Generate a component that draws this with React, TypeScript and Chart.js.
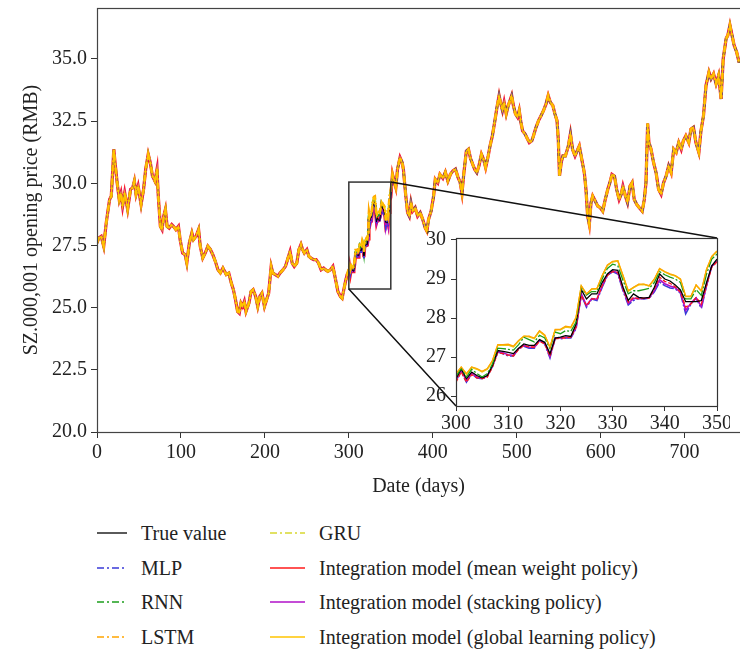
import React, { useEffect, useRef } from 'react';
import { Chart, registerables } from 'chart.js';
Chart.register(...registerables);

const FONT = "'Liberation Serif', 'Times New Roman', serif";

// ---- main chart: true-value trace outside the zoomed window ----
const mainDaysA = [0, 2, 5, 8, 11, 15, 17, 19, 20, 21.5, 24, 26.5, 28.5, 30.5, 33, 36.5, 40, 42.5, 44.5, 46.5, 49, 52.5, 55.5, 58, 61, 63.5, 66, 69, 71.5, 73, 75.5, 77.5, 79.5, 81.5, 83.5, 86, 89, 91, 94, 97, 99, 102, 105, 107, 110, 113, 115, 118, 121, 123, 126, 129, 132, 135, 138, 141, 144, 147, 150, 154, 157, 160, 162.5, 165, 167.5, 169.5, 171.5, 173.5, 175.5, 177.5, 181, 183.5, 186, 189, 191.5, 194, 196.5, 199.5, 202, 204.5, 207.5, 209.5, 212.5, 215.5, 218, 221.5, 224.5, 227.5, 230, 232.5, 235, 238, 240.5, 243, 245, 247, 250, 252.5, 255, 258, 261, 264, 267, 270, 272.5, 275, 278, 281, 283, 285, 287, 290, 292, 294, 296, 298];
const mainValuesA = [27.6, 27.8, 27.87, 27.47, 28.41, 29.35, 29.48, 30.7, 31.37, 30.83, 30.03, 29.35, 29.6, 29.08, 29.62, 28.95, 29.76, 29.82, 30.09, 29.56, 29.89, 29.15, 29.76, 30.57, 31.17, 30.83, 30.3, 30.09, 30.57, 29.49, 28.27, 28.14, 28.68, 28.95, 28.27, 28.2, 28.34, 28.27, 28.14, 28.27, 27.74, 27.2, 27.13, 26.8, 27.6, 28.0, 27.74, 27.87, 28.14, 27.47, 27.0, 27.2, 27.47, 27.34, 27.13, 26.86, 26.53, 26.4, 26.59, 26.33, 26.39, 25.99, 25.72, 25.32, 24.85, 24.78, 25.18, 25.05, 25.25, 24.85, 25.18, 25.65, 25.72, 25.45, 25.05, 25.45, 25.58, 25.05, 25.32, 25.58, 26.66, 26.39, 26.33, 26.26, 26.39, 26.52, 26.66, 26.99, 27.26, 26.79, 26.66, 26.79, 27.33, 27.54, 27.33, 27.2, 27.33, 27.06, 26.99, 26.93, 26.93, 26.79, 26.52, 26.59, 26.52, 26.46, 26.52, 26.66, 26.33, 25.99, 25.65, 25.45, 25.38, 25.72, 26.05, 26.33];

const mainDaysB = [352, 354, 356, 358, 361, 363.5, 365, 367.5, 370, 372, 374, 376, 379, 382, 385, 388, 391, 393, 395, 398, 401, 403, 406, 408.5, 412, 415, 418, 421, 424, 427, 430, 432.5, 434.8, 437, 440, 442.5, 445, 447.5, 450, 452.5, 455, 458, 460.5, 463, 466, 468.5, 471, 474, 476.5, 479, 481, 483, 485, 487.5, 490, 492, 494, 496, 498.5, 501, 503, 505, 507, 510, 512, 515, 518, 520, 523, 526, 529, 532, 535, 537.5, 540, 543, 545.5, 548, 549.5, 551, 553, 555, 558, 561.5, 564, 566.5, 569.5, 572, 574.6, 577.5, 580.5, 582.5, 584.5, 586.5, 588.5, 590.5, 593.5, 596.5, 599.5, 602.5, 605.5, 608.5, 611, 613.5, 616.5, 619, 622, 624.5, 626.5, 629.5, 632, 635, 637.5, 640, 643, 646, 649.5, 652, 654, 656, 657.5, 660, 663, 666, 669, 672, 675, 678, 681, 684, 687, 690, 693, 696, 698.5, 701.5, 705, 707.5, 710.5, 713.5, 717, 719.5, 722.5, 725.5, 729, 731.5, 734.5, 737.5, 740.5, 743.5, 746, 749.5, 751.5, 754, 756.5, 759, 762, 765];
const mainValuesB = [30.36, 30.09, 29.83, 30.57, 31.04, 30.84, 30.57, 29.62, 28.82, 28.68, 29.22, 28.88, 29.02, 28.68, 28.82, 28.55, 28.21, 28.08, 28.55, 28.88, 29.49, 30.16, 30.02, 30.36, 30.2, 30.45, 30.09, 30.36, 30.5, 30.57, 30.25, 30.05, 29.6, 30.4, 31.3, 31.37, 31.0, 30.77, 30.56, 30.43, 30.7, 31.17, 30.97, 30.63, 31.1, 31.55, 31.91, 32.52, 33.06, 33.53, 33.2, 32.93, 33.26, 32.79, 33.13, 33.33, 33.53, 33.13, 32.79, 32.66, 32.93, 32.45, 32.11, 31.98, 31.84, 31.64, 31.71, 31.91, 32.25, 32.52, 32.72, 32.93, 33.2, 33.53, 33.26, 33.13, 32.79, 32.52, 31.78, 30.3, 30.83, 31.1, 31.1, 31.5, 32.0, 31.37, 31.1, 31.3, 31.5, 30.97, 30.43, 29.76, 28.68, 28.34, 29.22, 29.49, 29.29, 29.08, 29.02, 28.88, 29.35, 29.76, 30.03, 30.36, 30.29, 29.76, 29.35, 29.56, 29.89, 29.49, 29.22, 29.89, 30.03, 29.35, 29.15, 29.02, 28.88, 29.35, 30.03, 32.4, 31.64, 31.37, 30.84, 30.43, 29.76, 29.56, 30.03, 30.29, 30.7, 30.43, 31.37, 31.24, 31.64, 31.37, 31.71, 31.91, 31.64, 32.18, 32.25, 31.64, 31.24, 32.11, 32.72, 33.93, 34.47, 34.2, 34.4, 34.0, 34.34, 33.39, 35.01, 35.82, 35.95, 36.36, 35.95, 35.55, 35.28, 34.85];

// ---- zoomed window, days 300..350 ----
const insetStartDay = 300;
const insetTrue = [26.45, 26.70, 26.45, 26.62, 26.53, 26.47, 26.53, 26.79, 27.17, 27.15, 27.12, 27.09, 27.23, 27.34, 27.30, 27.30, 27.45, 27.38, 27.09, 27.49, 27.51, 27.55, 27.53, 27.85, 28.73, 28.49, 28.62, 28.62, 28.91, 29.13, 29.24, 29.22, 28.79, 28.45, 28.62, 28.53, 28.51, 28.53, 28.79, 29.13, 29.00, 28.95, 28.85, 28.72, 28.42, 28.42, 28.42, 28.45, 28.91, 29.34, 29.51];
const insetMLP = [26.40, 26.64, 26.36, 26.58, 26.47, 26.45, 26.51, 26.77, 27.13, 27.09, 27.03, 27.03, 27.22, 27.28, 27.23, 27.23, 27.43, 27.34, 26.98, 27.49, 27.47, 27.49, 27.49, 27.73, 28.60, 28.28, 28.49, 28.45, 28.79, 29.09, 29.19, 29.13, 28.70, 28.34, 28.45, 28.51, 28.49, 28.51, 28.67, 28.92, 28.83, 28.77, 28.75, 28.64, 28.11, 28.36, 28.51, 28.25, 28.83, 29.34, 29.43];
const insetRNN = [26.51, 26.71, 26.49, 26.69, 26.58, 26.49, 26.58, 26.83, 27.23, 27.22, 27.20, 27.18, 27.32, 27.51, 27.45, 27.39, 27.56, 27.49, 27.22, 27.64, 27.60, 27.68, 27.66, 27.90, 28.79, 28.59, 28.68, 28.68, 29.00, 29.27, 29.38, 29.34, 28.96, 28.62, 28.70, 28.70, 28.73, 28.76, 28.91, 29.19, 29.11, 29.05, 29.00, 28.91, 28.49, 28.49, 28.73, 28.58, 29.13, 29.51, 29.64];
const insetLSTM = [26.58, 26.75, 26.58, 26.75, 26.71, 26.64, 26.71, 26.92, 27.32, 27.32, 27.33, 27.28, 27.43, 27.54, 27.54, 27.49, 27.68, 27.57, 27.26, 27.71, 27.71, 27.79, 27.77, 28.02, 28.83, 28.62, 28.75, 28.76, 29.09, 29.36, 29.45, 29.47, 29.09, 28.70, 28.79, 28.87, 28.87, 28.83, 29.00, 29.27, 29.19, 29.13, 29.09, 29.00, 28.56, 28.56, 28.85, 28.70, 29.25, 29.58, 29.72];
const insetGRU = [26.57, 26.74, 26.57, 26.74, 26.70, 26.63, 26.70, 26.91, 27.31, 27.31, 27.32, 27.27, 27.42, 27.53, 27.53, 27.48, 27.67, 27.56, 27.25, 27.70, 27.70, 27.78, 27.76, 28.01, 28.82, 28.61, 28.74, 28.75, 29.08, 29.35, 29.44, 29.46, 29.08, 28.69, 28.78, 28.86, 28.86, 28.82, 28.99, 29.26, 29.18, 29.12, 29.08, 28.99, 28.55, 28.55, 28.84, 28.69, 29.24, 29.57, 29.71];
const insetMean = [26.36, 26.62, 26.36, 26.55, 26.47, 26.45, 26.49, 26.75, 27.12, 27.09, 27.05, 27.03, 27.20, 27.30, 27.26, 27.26, 27.40, 27.34, 27.03, 27.47, 27.49, 27.49, 27.51, 27.77, 28.58, 28.32, 28.49, 28.49, 28.83, 29.09, 29.19, 29.17, 28.75, 28.41, 28.53, 28.49, 28.51, 28.51, 28.75, 29.05, 28.94, 28.89, 28.80, 28.67, 28.28, 28.36, 28.53, 28.36, 28.83, 29.30, 29.44];
const insetStacking = [26.42, 26.66, 26.40, 26.59, 26.49, 26.46, 26.52, 26.78, 27.14, 27.11, 27.06, 27.05, 27.22, 27.30, 27.26, 27.25, 27.43, 27.36, 27.02, 27.49, 27.49, 27.51, 27.51, 27.76, 28.62, 28.32, 28.50, 28.48, 28.82, 29.11, 29.21, 29.16, 28.74, 28.38, 28.50, 28.51, 28.50, 28.52, 28.71, 28.98, 28.88, 28.82, 28.78, 28.66, 28.20, 28.38, 28.52, 28.30, 28.85, 29.33, 29.46];
const insetGlobal = [26.56, 26.74, 26.56, 26.74, 26.69, 26.62, 26.69, 26.90, 27.30, 27.30, 27.31, 27.26, 27.41, 27.53, 27.52, 27.47, 27.66, 27.55, 27.25, 27.70, 27.70, 27.77, 27.75, 28.00, 28.82, 28.61, 28.74, 28.75, 29.08, 29.35, 29.44, 29.46, 29.07, 28.69, 28.78, 28.85, 28.86, 28.82, 28.99, 29.26, 29.18, 29.12, 29.08, 28.99, 28.55, 28.55, 28.84, 28.69, 29.24, 29.57, 29.71];

const mainXMax = 766;
const mainYMin = 20, mainYMax = 37.05;
const insetYMin = 25.75, insetYMax = 30.05;
const insetXMin = 300, insetXMax = 350;

const DASHDOT = [6, 3, 1.5, 3];
const series = [
  { label: 'True value', data: insetTrue, color: '#000000', dash: [] as number[], col: 0, row: 0 },
  { label: 'MLP', data: insetMLP, color: '#3a3ad8', dash: DASHDOT, col: 0, row: 1 },
  { label: 'RNN', data: insetRNN, color: '#1c9e1c', dash: DASHDOT, col: 0, row: 2 },
  { label: 'LSTM', data: insetLSTM, color: '#ffa500', dash: DASHDOT, col: 0, row: 3 },
  { label: 'GRU', data: insetGRU, color: '#d8d830', dash: DASHDOT, col: 1, row: 0 },
  { label: 'Integration model (mean weight policy)', data: insetMean, color: '#ff1a1a', dash: [] as number[], col: 1, row: 1 },
  { label: 'Integration model (stacking policy)', data: insetStacking, color: '#b010c8', dash: [] as number[], col: 1, row: 2 },
  { label: 'Integration model (global learning policy)', data: insetGlobal, color: '#ffc400', dash: [] as number[], col: 1, row: 3 },
];

// main-chart drawing style per series (order: lower = on top)
const mainStyle: Record<string, { w: number; order: number }> = {
  'True value': { w: 1, order: 3 },
  'MLP': { w: 1.5, order: 4 },
  'RNN': { w: 2.4, order: 6 },
  'LSTM': { w: 2.6, order: 1 },
  'GRU': { w: 2.2, order: 2 },
  'Integration model (mean weight policy)': { w: 3.2, order: 7 },
  'Integration model (stacking policy)': { w: 2.0, order: 5 },
  'Integration model (global learning policy)': { w: 1.4, order: 0 },
};
const insetOrder: Record<string, number> = {
  'True value': 2, 'MLP': 6, 'RNN': 1, 'LSTM': 0, 'GRU': 7,
  'Integration model (mean weight policy)': 3, 'Integration model (stacking policy)': 5,
  'Integration model (global learning policy)': 8,
};

const INSET_LEFT = 400, INSET_TOP = 228, INSET_W = 330, INSET_H = 212;

function insetPoints(vals: number[]) {
  return vals.map((v, i) => ({ x: insetStartDay + i, y: v }));
}
function mainPoints(vals: number[]) {
  const a = mainDaysA.map((d, i) => ({ x: d, y: mainValuesA[i] }));
  const b = mainDaysB.map((d, i) => ({ x: d, y: mainValuesB[i] }));
  return [...a, ...insetPoints(vals), ...b];
}

const tickFont = { family: FONT, size: 20 };
const noPad = (s: any) => { s.paddingTop = 0; s.paddingBottom = 0; s.paddingLeft = 0; s.paddingRight = 0; };

function insetDash(label: string, dash: number[]) {
  if (label === 'Integration model (mean weight policy)') return [4, 2];
  if (label === 'LSTM') return [];
  return dash.length ? [12, 2, 2, 2] : [];
}

export default function App() {
  const mainRef = useRef<HTMLCanvasElement>(null);
  const insetRef = useRef<HTMLCanvasElement>(null);

  useEffect(() => {
    const insetFrame = {
      id: 'insetFrame',
      beforeDraw(chart: any) {
        const a = chart.chartArea;
        const c = chart.ctx;
        c.save();
        c.fillStyle = '#ffffff';
        c.fillRect(a.left, a.top, a.right - a.left, a.bottom - a.top);
        c.restore();
      },
      afterDraw(chart: any) {
        const a = chart.chartArea;
        const c = chart.ctx;
        c.save();
        c.strokeStyle = '#333';
        c.lineWidth = 1.2;
        c.strokeRect(Math.round(a.left) + 0.5, Math.round(a.top) + 0.5, Math.round(a.right - a.left), Math.round(a.bottom - a.top));
        c.restore();
      },
    };

    const inset = new Chart(insetRef.current!, {
      type: 'line',
      data: {
        datasets: series.map((s) => ({
          label: s.label,
          data: insetPoints(s.data),
          borderColor: s.color,
          borderWidth: s.label === 'MLP' || s.label === 'Integration model (stacking policy)' ? 1.6 : 1.3,
          borderDash: insetDash(s.label, s.dash),
          pointRadius: 0,
          fill: false,
          tension: 0,
          order: insetOrder[s.label],
        })),
      },
      options: {
        animation: false,
        responsive: false,
        devicePixelRatio: 1,
        layout: { padding: { left: 0, right: 13, top: 10, bottom: 0 } },
        plugins: { legend: { display: false }, tooltip: { enabled: false } },
        scales: {
          x: {
            type: 'linear', min: insetXMin, max: insetXMax,
            afterFit: (s: any) => { s.height = 34; noPad(s); },
            ticks: { stepSize: 10, includeBounds: false, autoSkip: false, maxRotation: 0, padding: 1, color: '#222', font: tickFont },
            grid: { drawOnChartArea: false, drawTicks: true, tickLength: 5, color: '#333' },
            border: { display: false },
          },
          y: {
            type: 'linear', min: insetYMin, max: insetYMax,
            afterFit: (s: any) => { s.width = 56; noPad(s); },
            ticks: { stepSize: 1, includeBounds: false, padding: 5, color: '#222', font: tickFont },
            grid: { drawOnChartArea: false, drawTicks: true, tickLength: 5, color: '#333' },
            border: { display: false },
          },
        },
      },
      plugins: [insetFrame],
    } as any);

    const mainDecor = {
      id: 'mainDecor',
      afterDraw(chart: any) {
        const a = chart.chartArea;
        const c = chart.ctx;
        const xs = chart.scales.x, ys = chart.scales.y;
        c.save();
        c.strokeStyle = '#444';
        c.lineWidth = 1.2;
        c.strokeRect(Math.round(a.left) + 0.5, Math.round(a.top) + 0.5, Math.round(a.right - a.left) + 2, Math.round(a.bottom - a.top));
        // zoom rectangle
        const x1 = xs.getPixelForValue(insetXMin), x2 = xs.getPixelForValue(insetXMax);
        const y1 = ys.getPixelForValue(insetYMax), y2 = ys.getPixelForValue(insetYMin);
        c.strokeStyle = '#333';
        c.lineWidth = 1.5;
        c.strokeRect(x1, y1, x2 - x1, y2 - y1);
        // connectors to the inset frame
        const ia = inset.chartArea;
        c.strokeStyle = '#111';
        c.lineWidth = 1.5;
        c.beginPath();
        c.moveTo(x2, y1);
        c.lineTo(INSET_LEFT + ia.right, INSET_TOP + ia.top);
        c.moveTo(x1, y2);
        c.lineTo(INSET_LEFT + ia.left, INSET_TOP + ia.bottom);
        c.stroke();
        c.restore();
      },
    };

    const main = new Chart(mainRef.current!, {
      type: 'line',
      data: {
        datasets: series.map((s) => ({
          label: s.label,
          data: mainPoints(s.data),
          borderColor: s.color,
          borderWidth: mainStyle[s.label].w,
          borderDash: s.dash,
          pointRadius: 0,
          fill: false,
          tension: 0,
          order: mainStyle[s.label].order,
        })),
      },
      options: {
        animation: false,
        responsive: false,
        devicePixelRatio: 1,
        layout: { padding: { left: 0, right: 0, top: 8, bottom: 0 } },
        plugins: { legend: { display: false }, tooltip: { enabled: false } },
        scales: {
          x: {
            type: 'linear', min: 0, max: mainXMax,
            afterFit: (s: any) => { s.height = 68; noPad(s); },
            ticks: { stepSize: 100, includeBounds: false, autoSkip: false, maxRotation: 0, padding: 3, color: '#222', font: tickFont },
            grid: { drawOnChartArea: false, drawTicks: true, tickLength: 6, color: '#333' },
            border: { display: false },
            title: { display: true, text: 'Date (days)', color: '#222', font: tickFont, padding: { top: 0, bottom: 1 } },
          },
          y: {
            type: 'linear', min: mainYMin, max: mainYMax,
            afterFit: (s: any) => { s.width = 97; noPad(s); },
            ticks: { stepSize: 2.5, includeBounds: false, padding: 4, color: '#222', font: tickFont, callback: (v: any) => Number(v).toFixed(1) },
            grid: { drawOnChartArea: false, drawTicks: true, tickLength: 6, color: '#333' },
            border: { display: false },
            title: { display: true, text: 'SZ.000,001 opening price (RMB)', color: '#222', font: tickFont, padding: { top: 20, bottom: 0 } },
          },
        },
      },
      plugins: [mainDecor],
    } as any);

    return () => {
      main.destroy();
      inset.destroy();
    };
  }, []);

  const rowY = [533, 567.5, 602, 636.5];
  const colLine = [97, 270];
  const colText = [141, 319];
  const colLineLen = [30, 35];

  return (
    <div style={{ position: 'absolute', left: 0, top: 0, width: 740, height: 654, background: '#fff', fontFamily: FONT, overflow: 'hidden' }}>
      <canvas ref={mainRef} width={740} height={500} style={{ position: 'absolute', left: 0, top: 0, width: 740, height: 500 }} />
      <canvas ref={insetRef} width={INSET_W} height={INSET_H} style={{ position: 'absolute', left: INSET_LEFT, top: INSET_TOP, width: INSET_W, height: INSET_H }} />
      {series.map((s) => (
        <React.Fragment key={s.label}>
          <svg
            width={colLineLen[s.col]}
            height={10}
            style={{ position: 'absolute', left: colLine[s.col], top: rowY[s.row] - 5 }}
          >
            <line x1={0} y1={5} x2={colLineLen[s.col]} y2={5} stroke={s.color} strokeWidth={1.3} strokeDasharray={s.dash.length ? '7 3 2 3' : undefined} />
          </svg>
          <div style={{ position: 'absolute', left: colText[s.col], top: rowY[s.row] - 12, height: 24, lineHeight: '24px', fontSize: 20, color: '#222', whiteSpace: 'nowrap' }}>
            {s.label}
          </div>
        </React.Fragment>
      ))}
    </div>
  );
}
